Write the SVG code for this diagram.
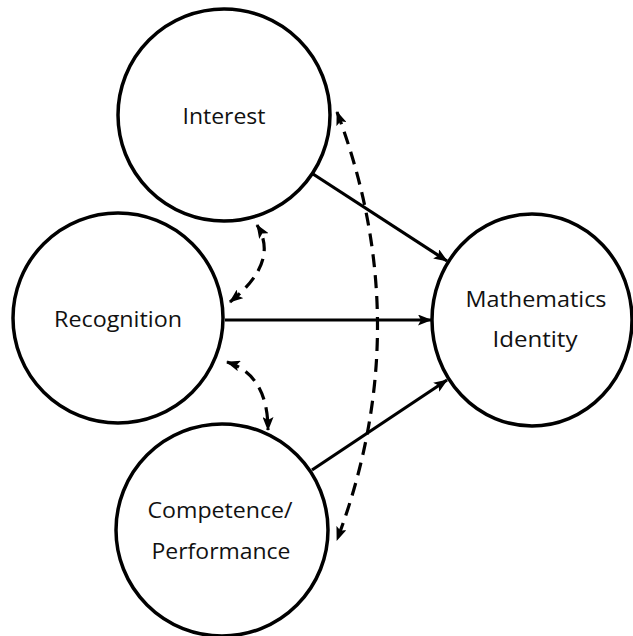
<svg xmlns="http://www.w3.org/2000/svg" width="633" height="636" viewBox="0 0 633 636">
<defs>
<style>
.node{fill:#fff;stroke:#000;stroke-width:3.5}
.lbl{font-family:"Open Sans","Liberation Sans",sans-serif;font-size:21.5px;fill:#111;text-anchor:middle}
.solid{fill:none;stroke:#000;stroke-width:3.2}
.dash{fill:none;stroke:#000;stroke-width:3.2;stroke-dasharray:13 8}
</style>
<marker id="ah" viewBox="0 0 14 11" refX="13" refY="5.5" markerWidth="14" markerHeight="11" markerUnits="userSpaceOnUse" orient="auto-start-reverse">
<path d="M0,0 L14,5.5 L0,11 L3,5.5 Z" fill="#000"/>
</marker>
</defs>
<g id="interest"><circle class="node" cx="224" cy="115" r="106"/><text class="lbl" x="224" y="124" textLength="83" lengthAdjust="spacingAndGlyphs">Interest</text></g>
<g id="recognition"><circle class="node" cx="118" cy="318" r="105"/><text class="lbl" x="118" y="327" textLength="128" lengthAdjust="spacingAndGlyphs">Recognition</text></g>
<g id="competence"><circle class="node" cx="222" cy="530" r="106"/><text class="lbl" x="220" y="518" textLength="145" lengthAdjust="spacingAndGlyphs">Competence/</text><text class="lbl" x="221" y="559" textLength="139" lengthAdjust="spacingAndGlyphs">Performance</text></g>
<g id="math"><ellipse class="node" cx="532" cy="320" rx="100" ry="106"/><text class="lbl" x="536" y="307" textLength="141" lengthAdjust="spacingAndGlyphs">Mathematics</text><text class="lbl" x="535" y="347" textLength="85" lengthAdjust="spacingAndGlyphs">Identity</text></g>
<g id="connectors">
<line class="solid" x1="313" y1="174" x2="447" y2="261" marker-end="url(#ah)"/>
<line class="solid" x1="225" y1="320" x2="431" y2="320" marker-end="url(#ah)"/>
<line class="solid" x1="312" y1="470" x2="447" y2="380" marker-end="url(#ah)"/>
<path class="dash" d="M337,112 Q418,326 337,540" marker-start="url(#ah)" marker-end="url(#ah)"/>
<path class="dash" d="M230,302 Q280,262 257,225" marker-start="url(#ah)" marker-end="url(#ah)"/>
<path class="dash" d="M227,362 Q268,375 268,430" marker-start="url(#ah)" marker-end="url(#ah)"/>
</g>
</svg>
